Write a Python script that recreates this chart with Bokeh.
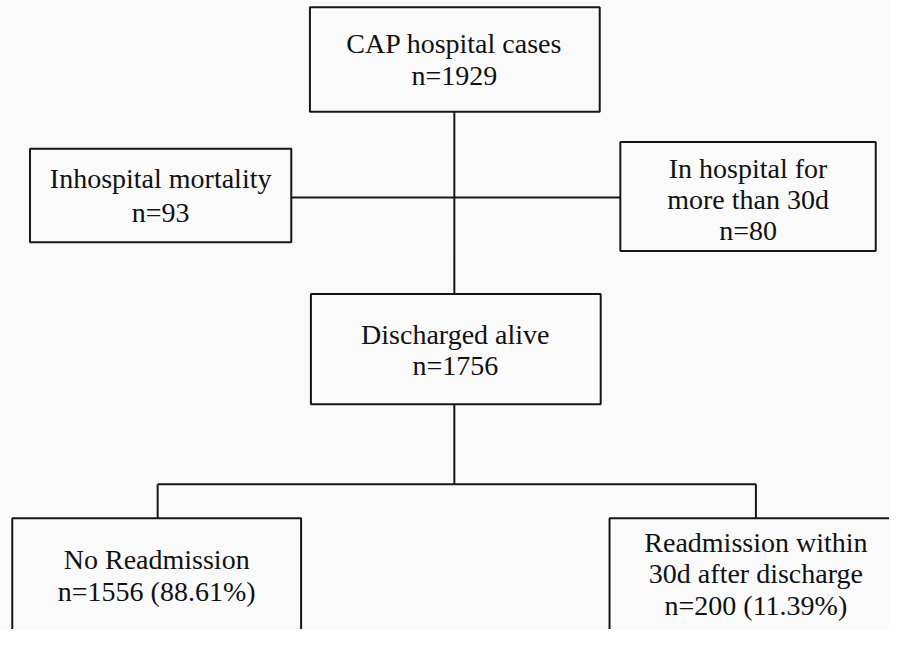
from bokeh.plotting import figure
from bokeh.models import Range1d
from bokeh.core.properties import value
from bokeh.embed import file_html
from bokeh.resources import INLINE

# Flowchart content
box_lines = [
    ["CAP hospital cases", "n=1929"],
    ["Inhospital mortality", "n=93"],
    ["In hospital for", "more than 30d", "n=80"],
    ["Discharged alive", "n=1756"],
    ["No Readmission", "n=1556 (88.61%)"],
    ["Readmission within", "30d after discharge", "n=200 (11.39%)"],
]
counts = [1929, 93, 80, 1756, 1556, 200]

# Layout (reference pixel coordinates)
box_left = [315, 30, 631, 316, 12, 620]
box_right = [610, 296, 891, 611, 306, 930]
box_top = [7, 152, 145, 301, 531, 531]
box_bottom = [114, 248, 257, 414, 670, 670]
text_cx = [462, 163, 761, 463, 159, 769]
first_baseline = [54, 193, 182, 352, 583, 566]
line_step = [33, 34, 32, 32, 33, 32]
baseline_shift = -10

# Connectors
conn_x0 = [462, 296, 462, 160, 160, 769]
conn_y0 = [114, 202, 414, 496, 496, 496]
conn_x1 = [462, 631, 462, 769, 160, 769]
conn_y1 = [301, 202, 496, 496, 531, 531]

BG = "#fafafa"
INK = "#161616"
FONT = value("Liberation Serif")

p = figure(width=889, height=629, output_backend="svg", toolbar_location=None,
           x_range=Range1d(0, 905), y_range=Range1d(645, 0),
           min_border=0, outline_line_color=None)
p.axis.visible = False
p.grid.visible = False
p.background_fill_color = BG
p.border_fill_color = BG

p.segment(x0=conn_x0, y0=conn_y0, x1=conn_x1, y1=conn_y1,
          line_color=INK, line_width=2)

p.quad(left=box_left, right=box_right, top=box_top, bottom=box_bottom,
       fill_color=BG, line_color=INK, line_width=2)

for i, lines in enumerate(box_lines):
    for j, s in enumerate(lines):
        y = first_baseline[i] + j * line_step[i] + baseline_shift
        p.text(x=[text_cx[i]], y=[y], text=[s], text_align="center",
               text_baseline="alphabetic", text_font=FONT,
               text_font_size="28px", text_color="#111111")

open("out.html", "w").write(file_html(p, INLINE))
